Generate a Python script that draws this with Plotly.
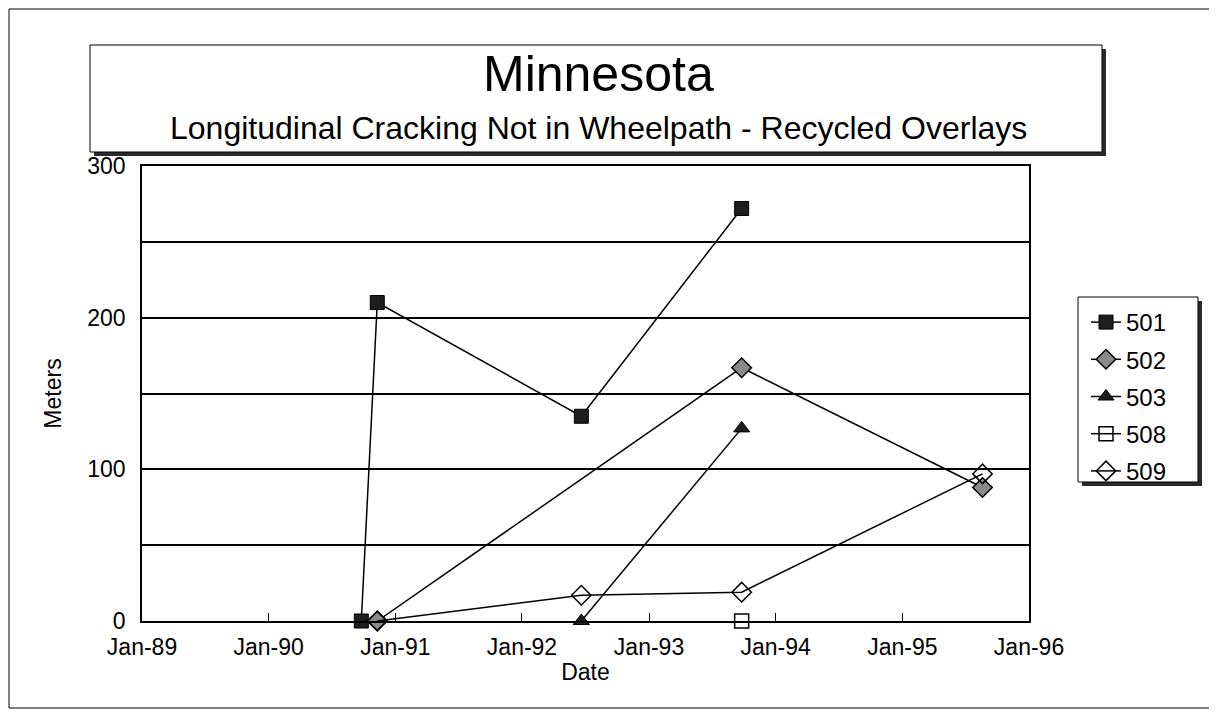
import plotly.graph_objects as go

# ---- data ----
dates_501 = ["1990-09-25", "1990-11-10", "1992-06-20", "1993-09-25"]
vals_501 = [0, 210, 135, 272]
dates_502 = ["1990-11-10", "1993-09-25", "1995-08-20"]
vals_502 = [0, 167, 88]
dates_503 = ["1992-06-20", "1993-09-25"]
vals_503 = [0, 127]
dates_508 = ["1993-09-25"]
vals_508 = [0]
dates_509 = ["1990-11-10", "1992-06-20", "1993-09-25", "1995-08-20"]
vals_509 = [0, 17, 19, 97]

title_main = "Minnesota"
title_sub = "Longitudinal Cracking Not in Wheelpath - Recycled Overlays"

FONT = "Liberation Sans, Arial, sans-serif"
OFF = 8  # page body margin
W, H = 1217 - OFF, 713 - OFF
L, R, T, B = 142 - OFF, 1029 - OFF, 166 - OFF, 621 - OFF

def px(x):
    # x given in page pixels
    return (x - OFF - L) / (R - L)

def py(y):
    return (B - (y - OFF)) / (B - T)

fig = go.Figure()
series = [
    ("501", dates_501, vals_501, dict(symbol="square", size=14, color="#1e1e1e", line=dict(color="black", width=1))),
    ("502", dates_502, vals_502, dict(symbol="diamond", size=15, color="#8a8a8a", line=dict(color="black", width=1.5))),
    ("503", dates_503, vals_503, dict(symbol="triangle-up", size=14, color="#1e1e1e", line=dict(color="black", width=1))),
    ("508", dates_508, vals_508, dict(symbol="square-open", size=14, color="black", line=dict(color="black", width=1.5))),
    ("509", dates_509, vals_509, dict(symbol="diamond-open", size=15, color="black", line=dict(color="black", width=1.5))),
]
for name, xs, ys, mk in series:
    fig.add_trace(go.Scatter(x=xs, y=ys, name=name, legendgroup=name, mode="lines+markers",
                             line=dict(color="black", width=1.5), marker=mk,
                             cliponaxis=False))

shapes = []
# outer border (edges of figure)
shapes.append(dict(type="rect", xref="paper", yref="paper", x0=px(9), x1=px(1210), y0=py(9), y1=py(708),
                   line=dict(color="black", width=1), layer="below"))
# title box shadow + box
shapes.append(dict(type="rect", xref="paper", yref="paper", x0=px(94), x1=px(1106), y0=py(49), y1=py(156),
                   line=dict(width=0), fillcolor="#2a2a2a", layer="below"))
shapes.append(dict(type="rect", xref="paper", yref="paper", x0=px(90), x1=px(1102), y0=py(45), y1=py(152),
                   line=dict(color="black", width=1), fillcolor="white", layer="below"))
# legend box shadow + box
shapes.append(dict(type="rect", xref="paper", yref="paper", x0=px(1082), x1=px(1202), y0=py(301), y1=py(486),
                   line=dict(width=0), fillcolor="#2a2a2a", layer="below"))
shapes.append(dict(type="rect", xref="paper", yref="paper", x0=px(1078), x1=px(1198), y0=py(297), y1=py(482),
                   line=dict(color="black", width=1), fillcolor="white", layer="below"))

annotations = [
    dict(text=title_main, xref="paper", yref="paper", x=px(598), y=py(74), showarrow=False,
         font=dict(family=FONT, size=50, color="black"), xanchor="center", yanchor="middle"),
    dict(text=title_sub, xref="paper", yref="paper", x=px(598), y=py(128), showarrow=False,
         font=dict(family=FONT, size=32, color="black"), xanchor="center", yanchor="middle"),
]

fig.update_layout(
    width=W, height=H,
    margin=dict(l=L, r=W - R, t=T, b=H - B, pad=0),
    paper_bgcolor="white", plot_bgcolor="white",
    font=dict(family=FONT, color="black", size=22),
    shapes=shapes, annotations=annotations,
    showlegend=True,
    legend=dict(x=px(1086), y=py(300), xanchor="left", yanchor="top",
                bgcolor="rgba(0,0,0,0)", borderwidth=0,
                font=dict(family=FONT, size=24, color="black"),
                itemwidth=30, tracegroupgap=3),
    xaxis=dict(type="date", range=["1989-01-01", "1996-01-01"], tick0="1989-01-01", dtick="M12",
               tickformat="%b-%y", ticks="inside", ticklen=8, tickcolor="black", tickwidth=1,
               showgrid=False, showline=True, linecolor="black", linewidth=1.5, mirror=True,
               zeroline=False, tickfont=dict(size=23), ticklabelstandoff=5,
               title=dict(text="Date", font=dict(size=23), standoff=5)),
    yaxis=dict(range=[0, 300], dtick=100, tick0=0, ticks="",
               showgrid=True, gridcolor="black", gridwidth=2,
               minor=dict(dtick=50, showgrid=True, gridcolor="black", gridwidth=2),
               showline=True, linecolor="black", linewidth=1.5, mirror=True, zeroline=False,
               tickfont=dict(size=23), ticklabelstandoff=10,
               title=dict(text="Meters", font=dict(size=23), standoff=19)),
)

fig.write_html("out.html")
